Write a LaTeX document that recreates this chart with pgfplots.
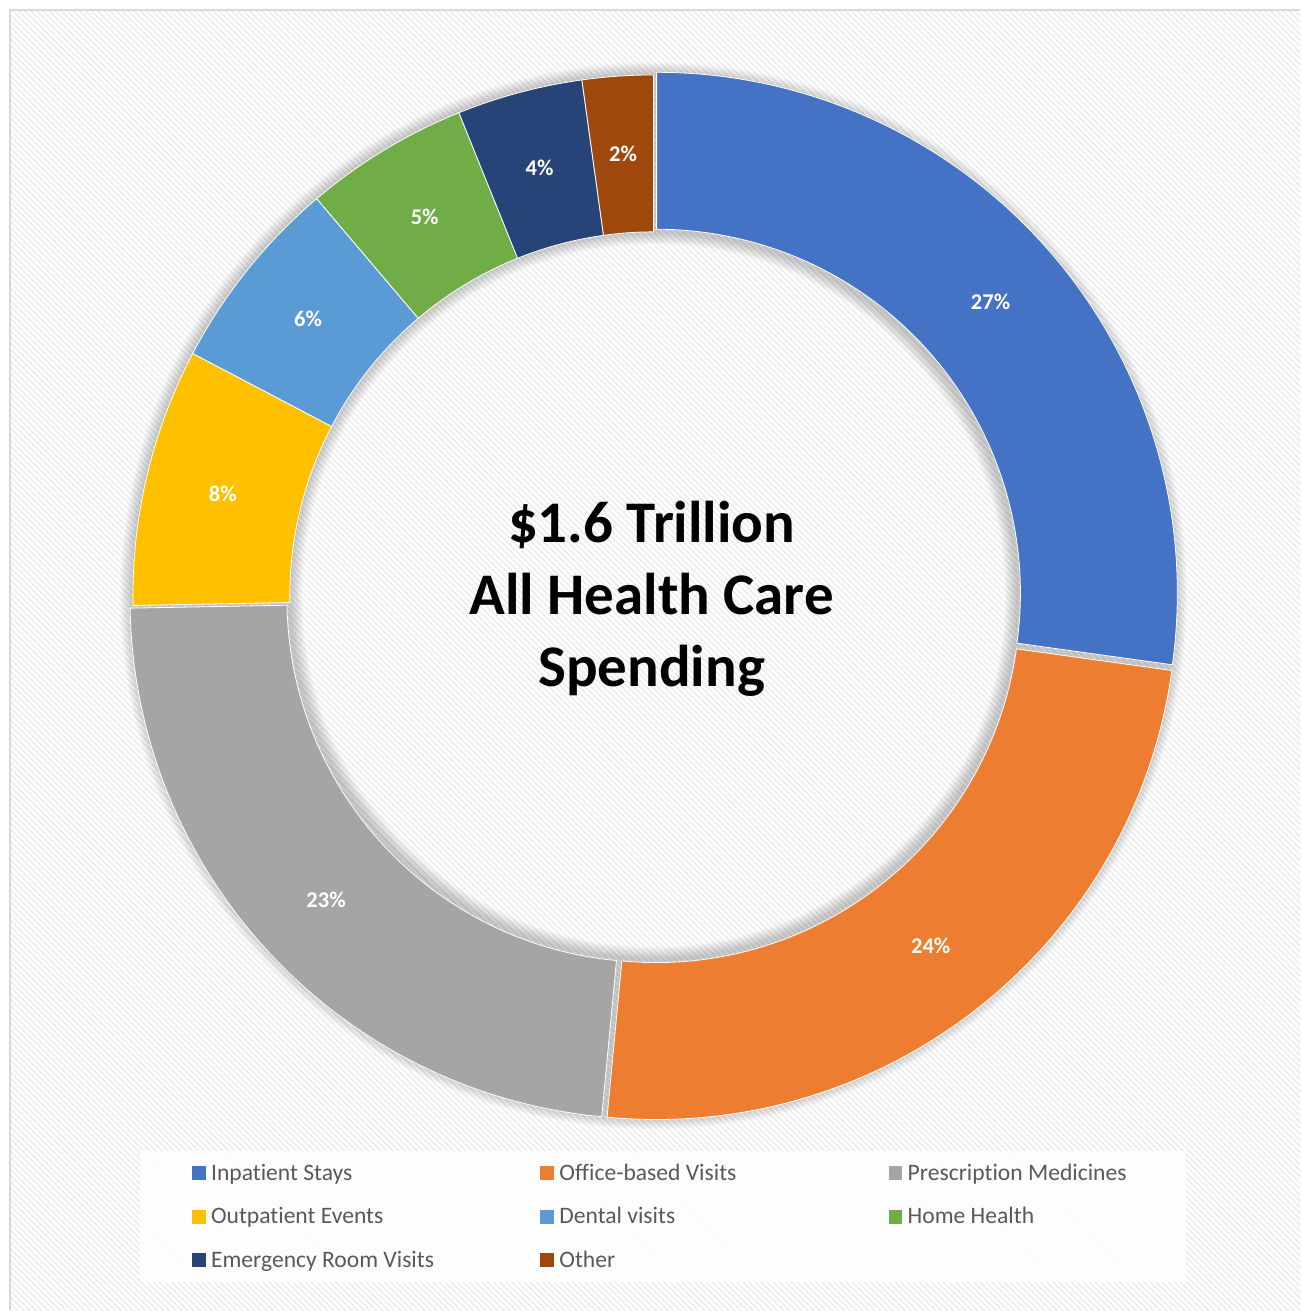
\documentclass[border=0pt]{standalone}
\usepackage{fontspec}
\setmainfont{Carlito}[Ligatures=NoCommon]
\usepackage{pgfplots}
\usepackage{pgfplotstable}
\pgfplotsset{compat=1.18}
\usetikzlibrary{patterns.meta}

\definecolor{cInp}{HTML}{4472C4}
\definecolor{cOff}{HTML}{ED7D31}
\definecolor{cPre}{HTML}{A5A5A5}
\definecolor{cOut}{HTML}{FFC000}
\definecolor{cDen}{HTML}{5B9BD5}
\definecolor{cHom}{HTML}{70AD47}
\definecolor{cEme}{HTML}{264478}
\definecolor{cOth}{HTML}{9E480E}
\definecolor{legtext}{HTML}{595959}
\definecolor{stripe}{HTML}{EDEDED}
\definecolor{frame}{HTML}{D9D9D9}

% share of spending (%), slice colour, explode offset (px)
\pgfplotstableread[col sep=comma]{
name,value,color,explode
Inpatient Stays,27.2,cInp,4
Office-based Visits,24.3,cOff,4
Prescription Medicines,23.2,cPre,4
Outpatient Events,8.0,cOut,0
Dental visits,6.1,cDen,0
Home Health,5.1,cHom,0
Emergency Room Visits,3.9,cEme,0
Other,2.2,cOth,0
}\spending

\newcommand\pctfont{\fontsize{22.5}{26}\selectfont\bfseries}
\newcommand\legfont{\fontsize{23.6}{28}\selectfont}
\newcommand\bigfont{\fontsize{59}{72}\selectfont\bfseries}
\def\ro{521}
\def\ri{364}
\def\rl{443}

\begin{document}
\begin{tikzpicture}
\begin{axis}[
    x=1pt, y=1pt,
    xmin=-654, xmax=647,
    ymin=-715, ymax=596,
    hide axis,
    scale only axis,
    clip=false,
]
% background
\fill[white] (axis cs:-654,-715) rectangle (axis cs:647,596);
\fill[pattern={Lines[angle=-45,distance=4.3pt,line width=1.7pt]}, pattern color=stripe]
    (axis cs:-644,-715) rectangle (axis cs:647,586);
\draw[frame, line width=1.5pt] (axis cs:-644,-715) -- (axis cs:-644,586) -- (axis cs:647,586);

% soft shadow round the ring
\pgfplotsinvokeforeach{1,...,9}{
  \fill[black, opacity=0.025, even odd rule]
    (axis cs:0,0) circle[radius={\ro pt+1.4pt*#1}]
    (axis cs:0,0) circle[radius={\ri pt-1.4pt*#1}];
}

% slices, labels from the table
\def\cum{0}
\pgfplotsforeachungrouped \i in {0,...,7}{
  \pgfplotstablegetelem{\i}{value}\of\spending \let\v\pgfplotsretval
  \pgfplotstablegetelem{\i}{color}\of\spending \let\c\pgfplotsretval
  \pgfplotstablegetelem{\i}{explode}\of\spending \let\e\pgfplotsretval
  \pgfmathsetmacro\a{90-3.6*\cum}
  \pgfmathsetmacro\b{90-3.6*(\cum+\v)}
  \pgfmathsetmacro\m{(\a+\b)/2}
  \pgfmathsetmacro\ox{\e*cos(\m)}
  \pgfmathsetmacro\oy{\e*sin(\m)}
  \pgfmathsetmacro\xa{\ox+\ro*cos(\a)}
  \pgfmathsetmacro\ya{\oy+\ro*sin(\a)}
  \pgfmathsetmacro\xb{\ox+\ri*cos(\b)}
  \pgfmathsetmacro\yb{\oy+\ri*sin(\b)}
  \pgfmathsetmacro\lx{\ox+\rl*cos(\m)}
  \pgfmathsetmacro\ly{\oy+\rl*sin(\m)}
  \pgfmathtruncatemacro\lab{round(\v)}
  \edef\slice{%
    \noexpand\fill[\c, draw=white, line width=0.8pt]
      (axis cs:\xa,\ya) arc[start angle=\a, end angle=\b, radius=\ro pt]
      -- (axis cs:\xb,\yb) arc[start angle=\b, end angle=\a, radius=\ri pt] -- cycle;
    \noexpand\node[font=\noexpand\pctfont, text=white] at (axis cs:\lx,\ly) {\lab\noexpand\%};
  }
  \slice
  \pgfmathsetmacro\cum{\cum+\v}
}

% legend box
\fill[white, opacity=0.8] (axis cs:-514,-556) rectangle (axis cs:533,-687);
\pgfplotsforeachungrouped \i in {0,...,7}{
  \pgfplotstablegetelem{\i}{color}\of\spending \let\c\pgfplotsretval
  \pgfplotstablegetelem{\i}{name}\of\spending \let\nm\pgfplotsretval
  \pgfmathtruncatemacro\col{mod(\i,3)}
  \pgfmathtruncatemacro\row{floor(\i/3)}
  \pgfmathsetmacro\mx{-462+348.5*\col}
  \pgfmathsetmacro\my{-578-43.5*\row}
  \pgfmathsetmacro\mxe{\mx+14}
  \pgfmathsetmacro\mya{\my-7}
  \pgfmathsetmacro\myb{\my+7}
  \pgfmathsetmacro\tx{\mx+19}
  \pgfmathsetmacro\ty{\my-7}
  \edef\entry{%
    \noexpand\fill[\c] (axis cs:\mx,\mya) rectangle (axis cs:\mxe,\myb);
    \noexpand\node[anchor=base west, inner sep=0pt, font=\noexpand\legfont, text=legtext]
      at (axis cs:\tx,\ty) {\nm};
  }
  \entry
}

% centre text
\node[anchor=base, inner sep=0pt, font=\bigfont] at (axis cs:-2,53) {\$1.6 Trillion};
\node[anchor=base, inner sep=0pt, font=\bigfont] at (axis cs:-2,-19) {All Health Care};
\node[anchor=base, inner sep=0pt, font=\bigfont] at (axis cs:-2,-91) {Spending};
\end{axis}
\end{tikzpicture}
\end{document}
